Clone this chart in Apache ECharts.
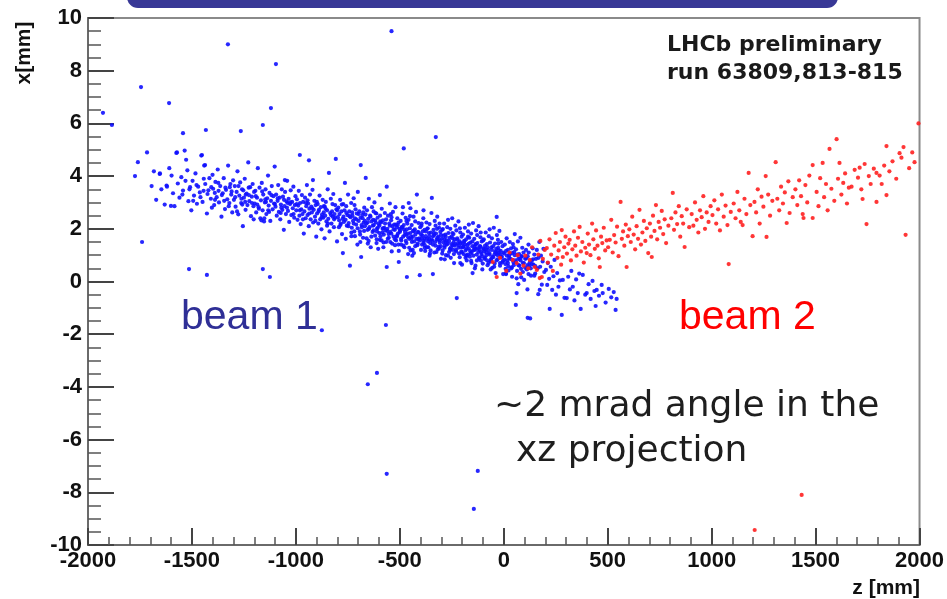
<!DOCTYPE html>
<html>
<head>
<meta charset="utf-8">
<title>LHCb beam-gas vertices, xz projection</title>
<script src="https://cdn.jsdelivr.net/npm/echarts@6/dist/echarts.min.js"></script>
<style>
  html, body { margin: 0; padding: 0; background: #ffffff; }
  #chart { width: 947px; height: 599px; }
</style>
</head>
<body>
<div id="chart"></div>
<script>
// Axis ranges and tick steps (z along the beam, x transverse)
const zRange = [-2000, 2000];
const zStep = 500;
const xRange = [-10, 10];
const xStep = 2;

// Beam 1 vertices [z (mm), x (mm)], grouped along z
const beam1Upstream = [
  [-1694,3.62],[-1683,4.18],[-1672,3.1],[-1655,4.08],[-1647,3.5],[-1631,2.92],[-1622,3.64],[-1609,4.3],
  [-1598,4.02],[-1591,3.35],[-1584,2.86],[-1575,4.88],[-1568,3.72],[-1560,3.18],[-1551,3.96],[-1543,3.45],
  [-1535,4.97],[-1528,4.62],[-1522,4.22],[-1517,3.05],[-1509,3.58],[-1503,2.7],
  [-1497,3.82],[-1490,3.26],[-1483,4.1],[-1476,2.95],[-1470,3.6],[-1462,3.38],[-1455,4.78],[-1449,3.02],
  [-1441,4.4],[-1436,3.7],[-1428,2.58],[-1421,3.46],[-1416,3.92],[-1409,3.14],[-1404,2.8],[-1401,4.05],
  [-1398,3.52],[-1393,2.9],[-1387,3.78],[-1381,3.2],[-1376,4.25],[-1370,3.0],[-1364,3.62],[-1358,2.46],
  [-1352,3.35],[-1347,3.92],[-1341,2.75],[-1336,3.48],[-1330,3.12],[-1326,4.4],[-1320,2.98],[-1315,3.7],
  [-1311,3.3],[-1306,2.62],[-1302,3.84],[-1345,3.06],[-1372,3.44],[-1318,3.58],
  [-1298,3.1],[-1294,3.62],[-1290,2.84],[-1285,3.4],[-1281,4.18],[-1277,2.55],[-1272,3.26],[-1268,3.76],
  [-1263,2.98],[-1259,3.5],[-1255,2.1],[-1250,3.18],[-1246,3.9],[-1242,2.72],[-1237,3.34],[-1233,2.9],
  [-1229,4.52],[-1224,3.05],[-1220,3.58],[-1216,2.48],[-1212,3.22],[-1208,3.7],[-1204,2.86],[-1201,3.4],
  [-1262,3.14],[-1244,3.02],[-1226,3.28],[-1283,2.66],
  [-1198,2.96],[-1195,3.44],[-1191,2.62],[-1187,3.18],[-1183,4.3],[-1179,2.82],[-1175,3.56],[-1171,2.4],
  [-1168,3.08],[-1164,3.74],[-1160,2.7],[-1157,3.3],[-1153,2.28],[-1149,3.0],[-1146,3.5],[-1142,2.56],
  [-1138,3.16],[-1134,4.02],[-1131,2.88],[-1127,3.36],[-1123,2.3],[-1120,3.06],[-1116,3.62],[-1112,2.74],
  [-1108,3.24],[-1105,2.96],[-1102,4.36],[-1186,2.92],[-1144,3.02],[-1129,2.64],
  [-1098,2.84],[-1095,3.3],[-1092,2.5],[-1088,3.06],[-1085,3.66],[-1082,2.64],[-1078,3.18],[-1075,2.36],
  [-1072,2.92],[-1068,3.5],[-1065,2.72],[-1062,3.22],[-1058,1.96],[-1055,2.86],[-1052,3.4],[-1048,2.56],
  [-1045,3.04],[-1042,3.82],[-1038,2.68],[-1035,3.14],[-1032,2.26],[-1028,2.94],[-1025,3.46],[-1022,2.52],
  [-1018,3.02],[-1015,2.78],[-1012,3.6],[-1008,2.42],[-1005,2.9],[-1002,3.24],[-1070,2.8],[-1040,2.98],
  [-1053,3.85],
  [-1546,3.3],[-1531,3.82],[-1512,3.5],[-1494,3.06],[-1478,3.66],[-1459,3.2],[-1443,3.9],[-1425,3.32],
  [-1407,3.58],[-1389,3.1],[-1373,3.74],[-1356,3.28],[-1339,3.56],[-1323,2.86],[-1309,3.42],[-1292,3.2],
  [-1276,3.62],[-1258,2.92],[-1241,3.3],[-1227,3.56],[-1211,2.98],[-1193,3.24],[-1178,2.76],[-1162,3.42],
  [-1147,3.12],[-1133,2.7],[-1118,3.28],[-1101,2.94],[-1087,3.16],[-1073,2.6],[-1057,3.1],[-1043,2.8],
  [-1027,3.0],[-1011,2.56],[-1203,2.36],[-1166,2.32],[-1152,2.4],[-1390,3.36],[-1444,3.44],[-1253,3.46]
];

const beam1Central = [
  [-998,2.7],[-995,3.12],[-992,2.34],[-989,2.88],[-986,3.44],[-983,2.5],[-980,2.98],[-977,2.18],
  [-974,2.74],[-971,3.28],[-968,2.56],[-965,3.02],[-962,1.82],[-959,2.66],[-956,3.18],[-953,2.4],
  [-950,2.86],[-947,3.66],[-944,2.52],[-941,2.96],[-938,2.1],[-935,2.76],[-932,3.3],[-929,2.36],
  [-926,2.84],[-923,2.62],[-920,3.48],[-917,2.24],[-914,2.72],[-911,3.06],[-908,2.46],[-905,2.9],
  [-902,1.7],[-918,3.85],
  [-898,2.58],[-895,2.94],[-892,2.2],[-889,2.72],[-886,3.26],[-883,2.36],[-880,2.82],[-877,1.98],
  [-874,2.54],[-871,3.1],[-868,2.42],[-865,2.86],[-862,1.64],[-859,2.5],[-856,3.02],[-853,2.28],
  [-850,2.7],[-847,3.5],[-844,2.38],[-841,4.12],[-838,1.9],[-835,2.6],[-832,3.14],[-829,2.2],
  [-826,2.66],[-823,2.46],[-820,3.32],[-817,2.06],[-814,2.56],[-811,2.9],[-808,4.65],[-805,2.74],
  [-802,1.52],[-850,2.12],[-824,2.94],[-866,2.62],
  [-798,2.44],[-796,2.8],[-793,2.06],[-790,2.56],[-787,3.1],[-784,2.2],[-781,2.66],[-778,1.8],
  [-775,2.38],[-772,2.94],[-769,2.26],[-766,2.7],[-764,3.74],[-761,2.34],[-758,2.86],[-755,2.12],
  [-752,2.52],[-749,3.3],[-746,2.22],[-743,2.66],[-740,0.6],[-737,2.44],[-734,2.98],[-731,2.04],
  [-728,2.5],[-725,2.3],[-722,3.16],[-719,1.9],[-716,2.4],[-713,2.74],[-710,2.16],[-707,2.58],
  [-704,1.4],[-774,1.08],[-760,1.62],[-733,1.72],[-718,2.9],[-792,2.32],[-702,3.4],
  [-698,2.3],[-695,2.66],[-692,1.9],[-689,2.42],[-688,4.42],[-686,0.93],[-683,2.06],[-680,2.52],
  [-677,1.66],[-674,2.24],[-671,2.8],[-668,2.1],[-665,2.54],[-664,3.93],[-661,2.2],[-658,2.7],
  [-655,1.96],[-652,2.38],[-649,3.14],[-646,2.06],[-643,2.5],[-640,1.3],[-637,2.28],[-634,2.82],
  [-631,1.88],[-628,2.34],[-625,2.14],[-622,3.0],[-619,1.74],[-616,2.24],[-613,2.58],[-610,2.0],
  [-607,2.42],[-604,1.24],[-602,2.18],[-690,1.5],[-676,2.62],[-650,1.54],[-626,2.66],[-612,1.46],
  [-598,2.12],[-595,2.5],[-593,1.72],[-590,2.24],[-587,2.76],[-584,1.86],[-581,2.32],[-578,1.48],
  [-575,2.04],[-572,2.6],[-569,1.94],[-566,2.36],[-563,3.6],[-563,0.55],[-560,2.0],[-557,2.5],
  [-554,1.8],[-551,2.2],[-548,2.96],[-545,1.88],[-542,2.32],[-539,1.14],[-536,2.1],[-533,2.64],
  [-530,1.7],[-527,2.16],[-524,1.96],[-521,2.82],[-518,1.56],[-515,2.06],[-512,2.4],[-509,1.82],
  [-506,2.24],[-505,0.74],[-502,2.0],[-596,1.58],[-580,2.02],[-558,1.62],[-540,2.44],[-523,1.38],
  [-510,2.14],[-546,1.5],[-596,3.28],
  [-498,1.94],[-496,2.3],[-493,1.56],[-490,2.06],[-487,2.58],[-484,1.7],[-481,2.14],[-478,1.3],
  [-475,1.88],[-472,2.42],[-469,1.78],[-466,0.17],[-464,2.2],[-461,1.82],[-458,2.34],[-455,1.62],
  [-452,2.02],[-449,2.78],[-446,1.7],[-443,2.14],[-440,0.98],[-437,1.92],[-434,2.46],[-431,1.52],
  [-428,1.98],[-425,1.78],[-422,2.64],[-418,3.3],[-416,1.38],[-413,1.88],[-410,2.22],[-407,1.64],
  [-404,0.24],[-402,2.06],[-494,1.4],[-480,1.98],[-468,1.46],[-451,2.48],[-438,1.2],[-426,2.28],
  [-411,1.6],[-448,1.18],[-485,2.82],[-460,1.04],[-457,2.98],
  [-996,2.94],[-981,2.7],[-966,2.36],[-951,2.98],[-936,2.58],[-921,2.78],[-906,2.3],[-891,2.66],
  [-876,2.44],[-861,2.84],[-846,2.2],[-831,2.52],[-816,2.36],[-801,2.7],[-786,2.14],[-771,2.46],
  [-757,2.6],[-944,3.08],[-899,3.02],[-857,2.76],[-812,2.42],[-779,2.92]
];

const beam1Downstream = [
  [-398,1.78],[-396,2.12],[-393,1.4],[-390,1.9],[-387,2.4],[-384,1.54],[-381,1.96],[-378,1.16],
  [-375,1.72],[-372,2.24],[-369,1.62],[-366,2.02],[-363,1.3],[-360,1.84],[-357,2.18],[-354,1.46],
  [-351,1.86],[-348,2.6],[-346,3.17],[-344,1.54],[-341,0.28],[-338,1.96],[-335,1.76],[-332,2.3],
  [-329,1.36],[-326,1.82],[-323,1.6],[-320,2.46],[-317,1.22],[-314,1.7],[-311,2.04],[-308,1.48],
  [-305,1.88],[-302,0.86],[-394,1.64],[-380,1.28],[-368,2.0],[-355,1.06],[-340,1.72],[-328,2.12],
  [-316,1.58],[-303,1.34],[-386,2.7],[-359,1.6],[-334,1.1],[-309,2.2],
  [-298,1.62],[-296,1.96],[-293,1.99],[-290,1.74],[-287,2.2],[-284,1.36],[-281,1.78],[-278,1.0],
  [-275,1.56],[-272,2.06],[-269,1.44],[-266,1.84],[-263,1.12],[-260,1.66],[-257,2.0],[-254,1.3],
  [-251,1.7],[-248,2.4],[-245,1.38],[-242,1.8],[-239,0.7],[-236,1.6],[-233,2.12],[-230,1.2],
  [-226,-0.63],[-224,1.64],[-221,1.44],[-218,2.28],[-215,1.06],[-212,1.52],[-209,1.86],[-206,1.3],
  [-203,1.7],[-201,0.64],[-294,1.18],[-280,1.5],[-268,2.34],[-255,0.9],[-241,1.5],[-228,1.94],
  [-216,1.38],[-204,1.14],[-286,1.6],[-259,1.24],[-234,1.42],[-211,2.02],
  [-198,1.44],[-196,1.78],[-193,1.04],[-190,1.54],[-187,2.04],[-184,1.18],[-181,1.6],[-178,0.8],
  [-175,1.38],[-172,1.9],[-169,1.26],[-166,1.66],[-163,0.94],[-160,1.48],[-157,1.82],[-154,1.12],
  [-151,1.52],[-148,2.22],[-145,1.2],[-142,1.62],[-139,0.5],[-136,1.42],[-133,1.94],[-130,1.02],
  [-127,1.46],[-124,1.26],[-121,2.1],[-118,0.88],[-115,1.34],[-112,1.68],[-109,1.12],[-106,1.52],
  [-103,0.46],[-194,1.32],[-180,0.98],[-168,2.16],[-155,0.7],[-141,1.32],[-128,1.76],[-116,1.2],
  [-104,0.96],[-186,1.4],[-159,1.06],[-134,1.24],[-111,1.86],[-150,0.32],
  [-98,1.26],[-96,1.6],[-93,0.86],[-90,1.36],[-87,1.86],[-84,1.0],[-81,1.42],[-78,0.62],
  [-75,1.2],[-72,1.72],[-69,1.08],[-66,1.48],[-63,0.76],[-60,1.3],[-57,1.64],[-54,0.94],
  [-51,1.34],[-48,2.04],[-45,1.02],[-42,1.44],[-39,0.32],[-36,1.24],[-33,1.76],[-30,0.84],
  [-27,1.28],[-24,1.08],[-21,1.92],[-18,0.7],[-15,1.16],[-12,1.5],[-9,0.94],[-6,1.34],
  [-3,0.28],[-94,1.14],[-80,0.8],[-68,1.98],[-55,0.52],[-41,1.14],[-28,1.58],[-16,1.02],
  [-4,0.78],[-86,1.22],[-59,0.88],[-34,1.06],[-34,2.45]
];

// Densest part of the beam 1 band, around the interaction point
const beam1Core = [
  [-747,2.1],[-741,2.48],[-733,1.86],[-729,2.62],[-722,2.2],[-716,1.72],[-709,2.36],[-703,2.02],
  [-698,2.56],[-691,1.78],[-684,2.14],[-679,2.4],[-672,1.92],[-668,2.3],[-660,1.64],[-655,2.24],
  [-648,2.0],[-641,2.46],[-637,1.7],[-630,2.12],[-626,1.94],[-619,2.32],[-611,1.6],[-606,2.04],
  [-599,1.84],[-594,2.28],[-588,1.56],[-583,2.0],[-577,1.78],[-571,2.2],[-566,1.5],[-560,1.92],
  [-553,1.66],[-548,2.12],[-541,1.82],[-537,1.44],[-530,1.98],[-524,1.6],[-519,2.16],[-513,1.74],
  [-507,1.4],[-500,1.88],[-494,1.62],[-489,2.06],[-483,1.36],[-477,1.76],[-471,1.54],[-466,1.98],
  [-460,1.68],[-455,1.28],[-449,1.84],[-442,1.5],[-437,1.7],[-431,1.9],[-426,1.34],[-420,1.62],
  [-414,1.44],[-409,1.86],[-403,1.56],[-398,1.2],[-392,1.74],[-386,1.46],[-381,1.62],[-375,1.9],
  [-369,1.3],[-364,1.52],[-358,1.72],[-352,1.18],[-347,1.6],[-341,1.4],[-336,1.84],[-330,1.5],
  [-324,1.12],[-319,1.66],[-313,1.32],[-307,1.56],[-302,1.76],[-296,1.06],[-290,1.48],[-285,1.28],
  [-279,1.7],[-274,1.4],[-268,0.98],[-263,1.54],[-257,1.2],[-251,1.42],[-246,1.64],[-240,1.04],
  [-235,1.36],[-229,1.14],[-223,1.58],[-218,1.28],[-212,0.92],[-207,1.46],[-201,1.1],[-196,1.3],
  [-190,1.52],[-184,0.9],[-179,1.24],[-173,1.02],[-168,1.44],[-162,1.16],[-157,0.78],[-151,1.34],
  [-146,0.98],[-140,1.2],[-134,1.4],[-129,0.8],[-123,1.12],[-118,0.92],[-112,1.32],[-107,1.04],
  [-101,0.68],[-96,1.22],[-90,0.9],[-84,1.1],[-79,1.3],[-73,0.7],[-68,1.02],[-62,0.82],
  [-57,1.2],[-51,0.92],[-46,0.56],[-40,1.1],[-35,0.8],[-29,1.0],[-24,1.18],[-18,0.6],
  [-13,0.92],[-7,0.72],[-2,1.1],[4,0.82],[9,0.48],[15,0.98],[20,0.7],[26,0.9],
  [31,1.06],[37,0.5],[42,0.82],[48,0.62],[53,1.0],[59,0.74],[64,0.4],[70,0.86],
  [75,0.6],[81,0.8],[86,0.96],[92,0.36],[97,0.7],[103,0.52],[108,0.88],[114,0.62],
  [119,0.28],[125,0.72],[130,0.5],[136,0.66],[141,0.84],[147,0.22],[152,0.58],
  [-654,1.44],[-617,2.6],[-579,1.3],[-543,2.56],[-505,1.16],[-468,2.3],[-432,1.08],[-395,2.2],
  [-357,0.98],[-321,2.0],[-284,0.84],[-247,1.84],[-209,0.7],[-172,1.7],[-136,0.6],[-99,1.56],
  [-63,0.46],[-26,1.44],[11,0.28],[47,1.3],[84,0.16],[120,1.1],[-610,1.9],[-515,1.7],
  [-445,1.62],[-380,1.38],[-311,1.26],[-244,1.2],[-178,0.98],[-110,0.8],[-44,0.68],[22,0.58]
];

const beam1Tail = [
  [2,1.06],[5,1.4],[8,0.66],[11,1.16],[14,1.64],[17,0.8],[20,1.2],[23,0.42],
  [26,1.0],[29,1.5],[32,0.86],[35,1.26],[38,0.54],[41,1.08],[44,1.42],[47,0.72],
  [50,1.12],[53,1.8],[56,0.8],[59,1.22],[62,0.12],[65,1.02],[68,1.52],[71,0.62],
  [74,1.04],[77,0.86],[80,1.66],[83,0.48],[86,0.94],[89,1.28],[92,0.7],[95,1.1],
  [98,0.06],[10,0.3],[40,0.18],[70,-0.1],[58,-0.89],[62,-0.44],
  [103,0.86],[107,1.2],[111,0.46],[115,0.96],[119,1.4],[123,0.6],[127,-1.4],[131,0.22],
  [135,0.8],[139,1.26],[143,0.64],[147,1.02],[151,0.3],[155,0.86],[159,1.2],[163,0.5],
  [167,0.9],[171,1.5],[175,0.56],[179,0.98],[183,-0.12],[187,0.76],[191,1.24],[195,0.36],
  [114,-0.3],[166,-0.48],[173,-0.32],[115,-1.38],
  [203,0.44],[209,-0.13],[212,0.7],[218,0.1],[221,-1.04],[226,0.56],[233,-0.32],[239,0.2],
  [244,0.82],[251,-0.5],[257,0.32],[263,-0.2],[270,0.04],[279,-1.27],[284,0.06],[292,-0.62],
  [303,-0.63],[310,0.18],[318,-0.3],[325,0.4],[332,-0.2],[340,-0.72],[348,0.08],[356,-0.44],
  [363,0.3],[370,-1.04],[380,0.25],[392,-0.5],
  [399,-0.44],[408,-0.1],[418,-0.66],[427,0.02],[436,-0.36],[442,-0.93],[447,-0.32],[458,-0.54],
  [471,-0.13],[476,-0.44],[490,-0.8],
  [505,-0.28],[517,-0.6],[529,-0.4],[538,-1.08],[543,-0.66]
];

const beam1Strays = [
  [-1928,6.4],[-1885,5.94],[-1745,7.38],[-1327,9.0],[-1096,8.25],[-540,9.5],[-1120,6.58],
  [-1159,5.94],[-1610,6.77],[-1543,5.63],[-1433,5.75],[-1265,5.71],[-327,5.48],[-481,5.05],
  [-1716,4.9],[-1760,4.53],[-1774,4.0],[-1740,1.5],[-1514,0.47],[-1428,0.25],[-1159,0.47],
  [-1125,0.17],[-875,-1.85],[-567,-1.65],[-610,-3.47],[-654,-3.9],[-563,-7.3],[-125,-7.19],
  [-144,-8.63],[-981,4.8],[-937,4.6],[-1654,4.1],[-1620,3.6],[-1601,2.87],[-1572,4.9],
  [-1452,4.8],[-1437,4.42]
];

// Beam 2 vertices [z (mm), x (mm)]
const beam2Near = [
  [-53,0.74],[-34,0.17],[-18,0.9],[12,0.4],[28,1.1],[43,0.82],[62,0.7],[67,1.0],[80,0.3],[95,0.6],
  [104,0.98],[118,0.5],[125,0.82],[136,1.3],[149,0.55],[159,0.44],[166,1.02],[173,0.13],[183,0.17],
  [188,0.86],[197,1.2],[176,1.54],
  [207,1.27],[212,0.72],[220,1.6],[228,1.02],[236,0.4],[243,1.36],[250,1.84],[258,0.9],[264,1.18],
  [270,1.5],[276,0.64],[279,1.95],[284,0.93],[291,1.3],[297,1.7],
  [304,1.06],[311,1.44],[317,1.58],[323,0.8],[330,1.22],[338,1.9],[344,1.36],[350,0.98],[357,1.66],
  [365,2.07],[371,1.14],[378,1.5],[385,0.72],[392,1.28],[399,1.08],
  [404,1.82],[410,1.4],[417,1.0],[425,2.2],[431,1.6],[438,1.24],[444,1.94],[451,1.36],[457,0.88],
  [462,0.55],[468,1.7],[474,1.46],[481,2.04],[488,1.18],[495,1.56],
  [502,1.3],[510,1.58],[517,2.34],[524,1.1],[531,1.76],[538,1.48],[545,2.08],[552,0.96],[562,3.02],
  [568,1.62],[574,1.9],[580,1.36],[587,2.16],[591,0.55],[597,1.72],
  [604,1.98],[611,1.5],[618,2.46],[625,1.78],[632,1.22],[639,2.1],[646,1.62],[653,2.72],[660,1.4],
  [667,1.86],[674,2.3],[681,1.54],[688,2.02],[695,1.08]
];

const beam2Far = [
  [703,2.2],[709,1.7],[712,0.93],[718,2.5],[725,1.92],[732,2.9],[738,1.6],[745,2.26],[752,2.04],
  [760,2.68],[767,1.8],[774,2.36],[781,1.46],[792,2.12],
  [806,2.4],[813,3.36],[819,1.96],[826,2.62],[834,2.18],[842,2.86],[849,1.7],[856,2.48],[863,2.2],
  [870,1.31],[880,2.74],[892,2.06],
  [904,2.56],[912,2.12],[920,3.0],[928,2.34],[936,1.86],[944,2.7],[952,2.44],[960,3.24],[968,2.0],
  [976,2.62],[985,2.26],[995,2.86],
  [1004,2.52],[1013,3.08],[1022,2.2],[1031,2.74],[1040,1.94],[1049,3.3],[1058,2.46],[1067,2.88],
  [1076,2.14],[1082,0.66],[1092,2.64],
  [1106,2.96],[1115,2.4],[1124,3.4],[1133,2.7],[1140,2.26],[1149,2.14],[1158,3.14],[1167,2.56],
  [1178,4.12],[1186,2.9],[1197,1.72],
  [1206,3.02],[1214,2.62],[1222,3.5],[1231,2.2],[1240,3.22],[1249,2.84],[1260,4.0],[1264,1.69],
  [1272,3.3],[1281,2.5],[1292,3.06],
  [1308,4.53],[1316,3.14],[1325,2.7],[1334,3.6],[1343,2.96],[1352,3.38],[1361,2.22],[1369,3.8],
  [1375,2.6],[1390,3.2],
  [1403,3.5],[1412,2.9],[1421,3.84],[1430,3.24],[1438,2.56],[1442,2.41],[1451,3.66],[1460,3.0],
  [1470,4.02],[1486,4.42],[1486,2.41],
  [1505,3.4],[1514,2.86],[1522,3.92],[1534,4.5],[1541,3.2],[1550,3.7],[1558,2.7],[1567,5.03],
  [1576,3.52],[1590,3.06],
  [1601,5.4],[1608,3.9],[1615,4.5],[1624,3.3],[1633,3.74],[1642,4.1],[1651,2.96],[1660,3.56],
  [1673,3.6],[1688,4.24],
  [1704,3.94],[1712,4.32],[1720,3.5],[1726,3.13],[1736,4.46],[1745,2.18],[1756,4.0],[1765,3.7],
  [1780,4.28],[1793,3.02],[1793,4.12],
  [1808,4.02],[1818,3.7],[1830,4.4],[1841,5.14],[1841,3.28],[1855,4.18],[1870,4.56],[1888,3.9],
  [1904,4.87],[1913,4.7],[1923,5.1],[1933,1.77],[1950,4.3],[1976,4.53],[1995,6.0],[1965,4.9]
];

const beam2Strays = [[1207,-9.43],[1433,-8.1]];

const beam1Color = '#1010ff';
const beam2Color = '#ff2020';
const axisFont = '"Liberation Sans", Arial, sans-serif';

const chart = echarts.init(document.getElementById('chart'), null, { renderer: 'canvas' });

function axisCommon(range, step, tickLen, minorLen, minorSplit) {
  return {
    type: 'value',
    min: range[0],
    max: range[1],
    interval: step,
    axisLine: { show: true, onZero: false, lineStyle: { color: '#6a6a6a', width: 2 } },
    axisTick: { show: true, inside: true, length: tickLen, lineStyle: { color: '#444', width: 2 } },
    minorTick: { show: true, splitNumber: minorSplit, length: minorLen, lineStyle: { color: '#555', width: 1.5 } },
    splitLine: { show: false },
    axisLabel: {
      fontFamily: axisFont, fontWeight: 'bold', fontSize: 22, color: '#111',
      showMinLabel: true, showMaxLabel: true,
      formatter: function (v) { return String(v); }
    }
  };
}

const xAxisOpt = axisCommon(zRange, zStep, 17, 8, 5);
xAxisOpt.axisLabel.margin = 5;
const yAxisOpt = axisCommon(xRange, xStep, 26, 13, 4);
yAxisOpt.axisLabel.margin = 6;

function scatter(name, data, color) {
  return {
    name: name,
    type: 'scatter',
    data: data,
    symbol: 'circle',
    symbolSize: 4.2,
    itemStyle: { color: color, opacity: 0.9 },
    emphasis: { disabled: true },
    silent: true
  };
}

chart.setOption({
  animation: false,
  backgroundColor: '#ffffff',
  grid: {
    left: 88, top: 18, right: 27, bottom: 54,
    show: true, borderColor: '#8a8a8a', borderWidth: 2, backgroundColor: 'transparent'
  },
  xAxis: xAxisOpt,
  yAxis: yAxisOpt,
  series: [
    scatter('beam 1', beam1Upstream, beam1Color),
    scatter('beam 1', beam1Central, beam1Color),
    scatter('beam 1', beam1Downstream, beam1Color),
    scatter('beam 1', beam1Core, beam1Color),
    scatter('beam 1', beam1Tail, beam1Color),
    scatter('beam 1', beam1Strays, beam1Color),
    scatter('beam 2', beam2Near, beam2Color),
    scatter('beam 2', beam2Far, beam2Color),
    scatter('beam 2', beam2Strays, beam2Color)
  ],
  graphic: [
    {
      type: 'rect', z: 100,
      shape: { x: 127, y: -14, width: 711, height: 22, r: [0, 0, 11, 11] },
      style: { fill: '#383896' }
    },
    {
      type: 'text', z: 100, x: 24, y: 53, rotation: Math.PI / 2,
      style: { text: 'x[mm]', font: 'bold 21px ' + axisFont, fill: '#111', align: 'center', verticalAlign: 'middle' }
    },
    {
      type: 'text', z: 100,
      style: { x: 920, y: 588, text: 'z [mm]', font: 'bold 21px ' + axisFont, fill: '#111', align: 'right', verticalAlign: 'middle' }
    },
    {
      type: 'text', z: 100,
      style: { x: 667, y: 45, text: 'LHCb preliminary', font: 'bold 22px "DejaVu Sans", Verdana, sans-serif', fill: '#1a1a1a', align: 'left', verticalAlign: 'middle' }
    },
    {
      type: 'text', z: 100,
      style: { x: 667, y: 73, text: 'run 63809,813-815', font: 'bold 22px "DejaVu Sans", Verdana, sans-serif', fill: '#1a1a1a', align: 'left', verticalAlign: 'middle' }
    },
    {
      type: 'text', z: 100,
      style: { x: 181, y: 318, text: 'beam 1', font: '41px ' + axisFont, fill: '#2f2f96', align: 'left', verticalAlign: 'middle' }
    },
    {
      type: 'text', z: 100,
      style: { x: 679, y: 318, text: 'beam 2', font: '41px ' + axisFont, fill: '#ff0000', align: 'left', verticalAlign: 'middle' }
    },
    {
      type: 'text', z: 100,
      style: { x: 494, y: 407, text: '~2 mrad angle in the', font: '36px "DejaVu Sans", Verdana, sans-serif', fill: '#1e1e1e', align: 'left', verticalAlign: 'middle' }
    },
    {
      type: 'text', z: 100,
      style: { x: 516, y: 452, text: 'xz projection', font: '36px "DejaVu Sans", Verdana, sans-serif', fill: '#1e1e1e', align: 'left', verticalAlign: 'middle' }
    }
  ]
});
</script>
</body>
</html>
